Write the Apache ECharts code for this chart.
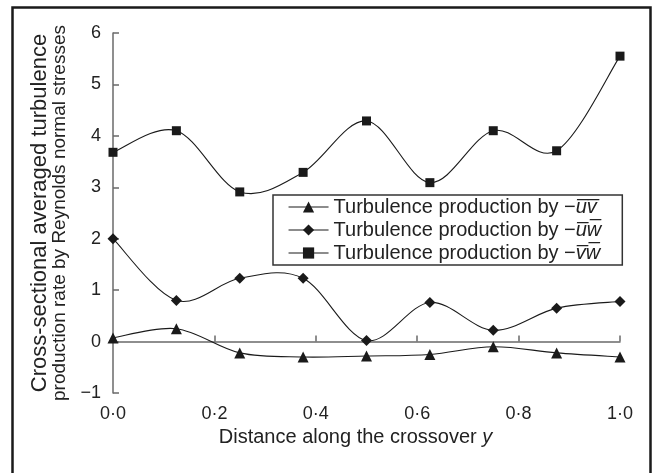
<!DOCTYPE html>
<html>
<head>
<meta charset="utf-8">
<script src="https://cdn.jsdelivr.net/npm/echarts@6/dist/echarts.min.js"></script>
<style>
html,body{margin:0;padding:0;background:#fff;}
#chart{width:653px;height:473px;}
</style>
</head>
<body>
<div id="chart"></div>
<script>
// Distance along the crossover (normalised)
var positions = [0, 0.125, 0.25, 0.375, 0.5, 0.625, 0.75, 0.875, 1.0];
// Turbulence production by -uv
var uvValues = [0.07, 0.25, -0.22, -0.30, -0.28, -0.25, -0.10, -0.22, -0.30];
// Turbulence production by -uw
var uwValues = [2.00, 0.80, 1.23, 1.23, 0.02, 0.76, 0.22, 0.65, 0.78];
// Turbulence production by -vw
var vwValues = [3.68, 4.10, 2.91, 3.29, 4.29, 3.09, 4.10, 3.71, 5.55];

var seriesLabels = ['Turbulence production by \u2212uv', 'Turbulence production by \u2212uw', 'Turbulence production by \u2212vw'];
var overlined = ['u\u0305v\u0305', 'u\u0305w\u0305', 'v\u0305w\u0305'];
var symbols = ['triangle', 'diamond', 'rect'];
var symbolSizes = [11, 11, 9];

var yTickValues = [-1, 0, 1, 2, 3, 4, 5, 6];
var xTickValues = [0, 0.2, 0.4, 0.6, 0.8, 1.0];

var allValues = [uvValues, uwValues, vwValues];

function pairs(xs, ys) { return xs.map(function (x, i) { return [x, ys[i]]; }); }

var font = '"Liberation Sans", Arial, sans-serif';
var axisColor = '#6a6a6a';
var textColor = '#222';
var inkColor = '#1a1a1a';

// Smooth (Catmull-Rom style) curve segment from point i to i+1, positioned with the axis scales
function makeCurveRenderer(ys) {
  return function (params, api) {
    var i = params.dataIndex;
    var n = positions.length;
    if (i >= n - 1) return null;
    var p = function (k) {
      k = Math.max(0, Math.min(n - 1, k));
      return api.coord([positions[k], ys[k]]);
    };
    var p0 = p(i - 1), p1 = p(i), p2 = p(i + 1), p3 = p(i + 2);
    var t = 1 / 6;
    var c1 = [p1[0] + (p2[0] - p0[0]) * t, p1[1] + (p2[1] - p0[1]) * t];
    var c2 = [p2[0] - (p3[0] - p1[0]) * t, p2[1] - (p3[1] - p1[1]) * t];
    return {
      type: 'bezierCurve',
      shape: {x1: p1[0], y1: p1[1], cpx1: c1[0], cpy1: c1[1], cpx2: c2[0], cpy2: c2[1], x2: p2[0], y2: p2[1]},
      style: {stroke: inkColor, lineWidth: 1.1, fill: null},
      silent: true
    };
  };
}

var chart = echarts.init(document.getElementById('chart'), null, {renderer: 'canvas'});

var curveSeries = allValues.map(function (ys, i) {
  return {
    name: 'curve' + i,
    type: 'custom',
    coordinateSystem: 'cartesian2d',
    data: pairs(positions, ys),
    encode: {x: 0, y: 1},
    renderItem: makeCurveRenderer(ys),
    z: 2
  };
});

var markerSeries = allValues.map(function (ys, i) {
  return {
    name: seriesLabels[i],
    type: 'line',
    data: pairs(positions, ys),
    symbol: symbols[i],
    symbolSize: symbolSizes[i],
    showAllSymbol: true,
    clip: false,
    lineStyle: {opacity: 0, width: 0},
    itemStyle: {color: inkColor, borderWidth: 0},
    z: 3
  };
});

var option = {
  backgroundColor: '#fff',
  animation: false,
  textStyle: {fontFamily: font},
  graphic: [{
    type: 'rect', left: 10, top: 5, silent: true,
    shape: {width: 638, height: 480},
    style: {fill: 'none', stroke: inkColor, lineWidth: 2.5}
  }],
  grid: {left: 113, right: 33, top: 33, bottom: 80},
  legend: {
    orient: 'vertical',
    left: 273, top: 195,
    data: seriesLabels,
    itemWidth: 40, itemHeight: 14, itemGap: 3,
    padding: [2, 21, 2, 15],
    borderColor: '#333', borderWidth: 1.5,
    backgroundColor: '#fff',
    lineStyle: {color: inkColor, width: 1.1, opacity: 1},
    itemStyle: {color: inkColor},
    formatter: function (name) {
      var i = seriesLabels.indexOf(name);
      return '{n|Turbulence production by \u2212}{i|' + overlined[i] + '}';
    },
    textStyle: {
      color: textColor, fontSize: 20, fontFamily: font, lineHeight: 16,
      rich: {
        n: {fontSize: 20, lineHeight: 16, fontFamily: font, color: textColor},
        i: {fontSize: 20, lineHeight: 16, fontFamily: font, fontStyle: 'italic', color: textColor}
      }
    }
  },
  xAxis: {
    type: 'value', min: 0, max: 1, interval: 0.2,
    name: '{a|Distance along the crossover }{b|y}',
    nameLocation: 'middle', nameGap: 31,
    nameTextStyle: {
      padding: [0, 22, 0, 0],
      rich: {
        a: {fontSize: 20, fontFamily: font, color: textColor},
        b: {fontSize: 20, fontFamily: font, fontStyle: 'italic', color: textColor}
      }
    },
    axisLine: {lineStyle: {color: axisColor, width: 1.5}},
    axisTick: {inside: true, length: 6, lineStyle: {color: axisColor, width: 1.5}},
    splitLine: {show: false},
    axisLabel: {
      margin: 12, fontSize: 18, color: textColor, fontFamily: font,
      formatter: function (v) {
        var k = xTickValues.indexOf(Math.round(v * 10) / 10);
        return xTickValues[k].toFixed(1).replace('.', '\u00b7');
      }
    }
  },
  yAxis: {
    type: 'value', min: -1, max: 6, interval: 1,
    name: '{a|Cross-sectional averaged turbulence}\n{b|production rate by Reynolds normal stresses}',
    nameLocation: 'middle', nameRotate: 90, nameGap: 40,
    nameTextStyle: {
      rich: {
        a: {fontSize: 22, lineHeight: 21, fontFamily: font, color: textColor},
        b: {fontSize: 19, lineHeight: 19, fontFamily: font, color: textColor}
      }
    },
    axisLine: {show: true, lineStyle: {color: axisColor, width: 1.5}},
    axisTick: {show: true, inside: true, length: 6, lineStyle: {color: axisColor, width: 1.5}},
    splitLine: {show: false},
    axisLabel: {
      margin: 12, fontSize: 18, color: textColor, fontFamily: font,
      formatter: function (v) {
        var k = yTickValues.indexOf(Math.round(v));
        return String(yTickValues[k]).replace('-', '\u2212');
      }
    }
  },
  series: curveSeries.concat(markerSeries)
};
chart.setOption(option);
</script>
</body>
</html>
